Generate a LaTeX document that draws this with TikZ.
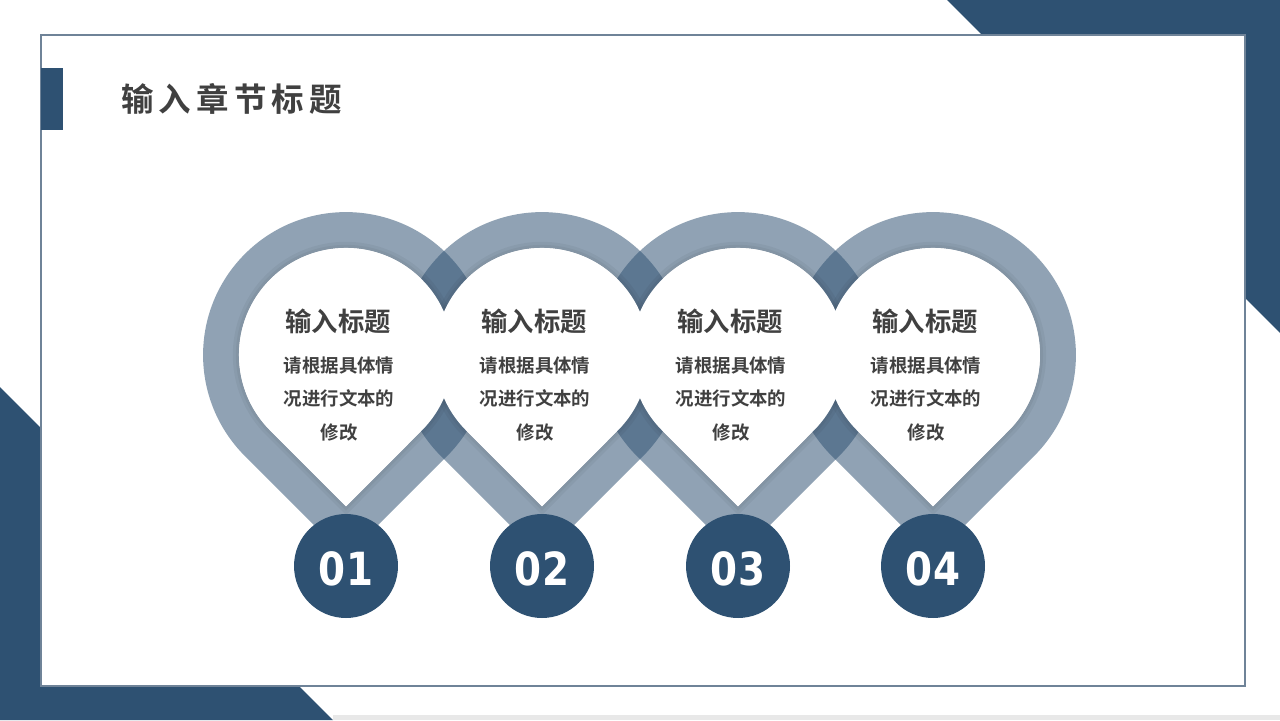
\documentclass[tikz,border=0pt]{standalone}
\usepackage{fontspec}
\newfontfamily\cjk{Noto Sans CJK SC}[BoldFont={Noto Sans CJK SC Bold}]
\newfontfamily\cjktitle{Noto Sans CJK SC Bold}[LetterSpace=16]
\newfontfamily\numfont{DejaVu Sans}
\usetikzlibrary{positioning}

\definecolor{navy}{HTML}{2E5172}
\definecolor{framegray}{HTML}{6F8398}
\definecolor{textgray}{HTML}{404040}

\tikzset{
  ring/.style={draw=navy, draw opacity=0.53, line width=20.4pt},
  innershade/.style={draw=black, draw opacity=0.045},
  numdot/.style={circle, fill=navy, minimum size=2.08cm, inner sep=0pt, text=white,
    font=\numfont\bfseries\fontsize{26}{26}\selectfont},
  headtext/.style={text=textgray, font=\cjk\bfseries\fontsize{15}{16}\selectfont},
  bodytext/.style={text=textgray, align=center, font=\cjk\bfseries\fontsize{10.5}{18.8}\selectfont}
}

\begin{document}
\begin{tikzpicture}[x=0.02cm,y=-0.02cm]
		\useasboundingbox (0,0) rectangle (1280,720);
		\fill[navy] (947,0) -- (1280,0) -- (1280,333) -- cycle;
		\fill[navy] (0,387) -- (0,720) -- (333,720) -- cycle;
		\fill[black!9] (333,715) rectangle (1280,720);
		\draw[framegray, line width=1.2pt, fill=white] (41,35) rectangle (1245,686);
		\fill[navy] (41,68) rectangle (63,130);
		\node[anchor=west, text=textgray, font=\cjktitle\fontsize{18.5}{20}\selectfont] (title) at (115,99) {输入章节标题};
		
		\foreach \x in {346,542,738,933}
			\draw[ring] (\x,531.8) -- ++(-88.4,-88.4) arc (135:405:125) -- cycle;
		
		\foreach \x in {346,542,738,933} {
			\draw[innershade, line width=7pt] (\x,506.3) -- ++(-75.7,-75.7) arc (135:405:107) -- cycle;
			\draw[innershade, line width=3.5pt] (\x,506.3) -- ++(-75.7,-75.7) arc (135:405:107) -- cycle;
		}
		\foreach \x in {346,542,738,933}
			\fill[white] (\x,506.3) -- ++(-75.7,-75.7) arc (135:405:107) -- cycle;
		
		\foreach \x [count=\i] in {346,542,738,933} {
			\node[numdot] (num\i) at (\x,566) {};
			\node[text=white, font=\numfont\bfseries\fontsize{26}{26}\selectfont] (lab\i) at (\x,569) {\scalebox{0.85}[1]{0\i}};
			\node[headtext] (head\i) at (\x-8,321) {输入标题};
			\node[bodytext] (body\i) at (\x-7,399) {请根据具体情\\况进行文本的\\修改};
		}
	\end{tikzpicture}
\end{document}
